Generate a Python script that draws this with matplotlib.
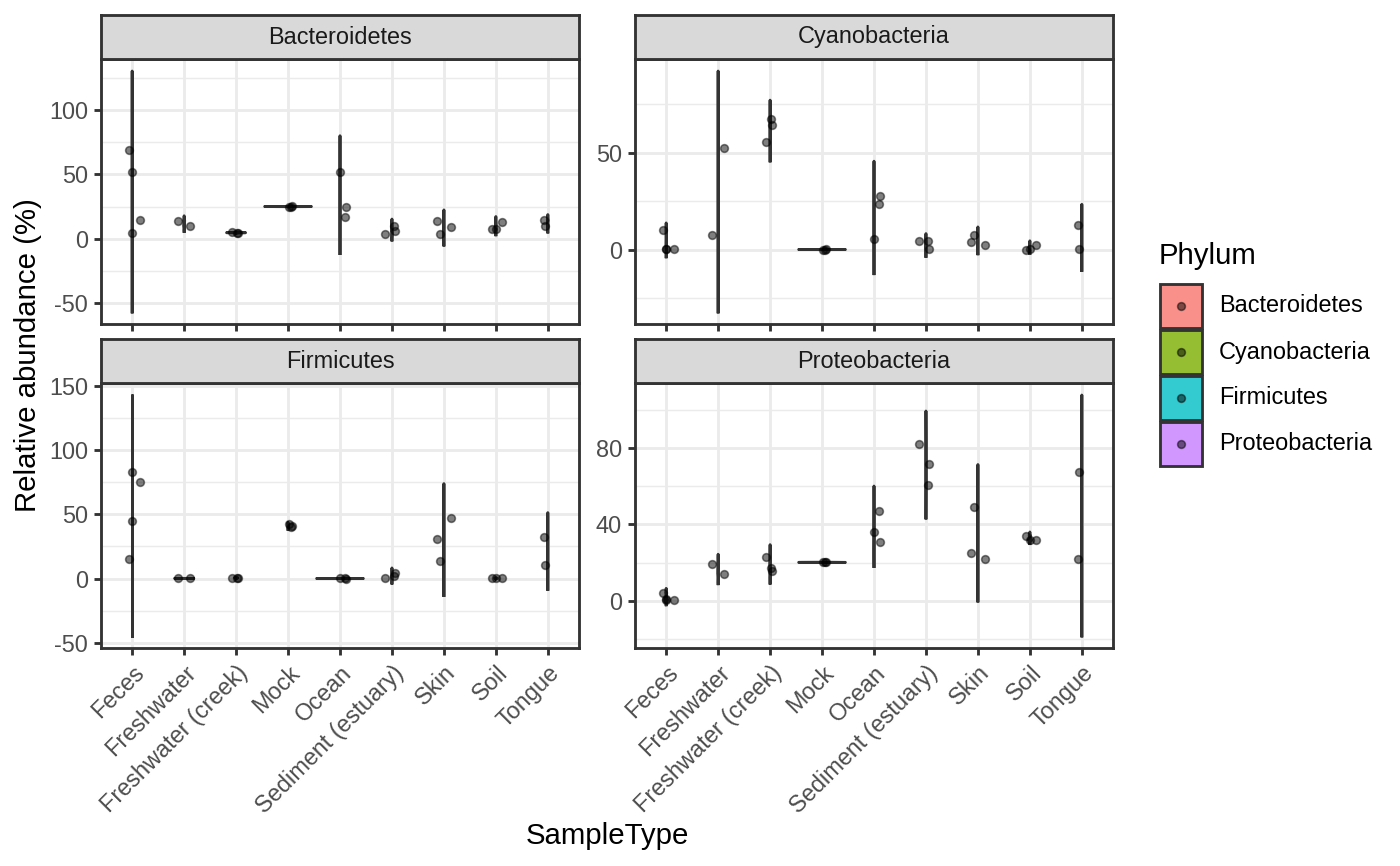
import numpy as np
import matplotlib
matplotlib.use("Agg")
import matplotlib.pyplot as plt
from matplotlib.patches import Rectangle

plt.rcParams['font.family'] = ['Liberation Sans', 'DejaVu Sans']
plt.rcParams['axes.unicode_minus'] = False

# data: relative abundance (%) per sample, per phylum and sample type

sample_types = ["Feces", "Freshwater", "Freshwater (creek)", "Mock", "Ocean",
                "Sediment (estuary)", "Skin", "Soil", "Tongue"]
phyla = ["Bacteroidetes", "Cyanobacteria", "Firmicutes", "Proteobacteria"]
colors = ["#F8766D", "#7CAE00", "#00BFC4", "#C77CFF"]

# horizontal jitter of each sample (same sample order as the values below)
jitter = {
    "Feces": [-0.065, 0.0, 0.145, -0.01],
    "Freshwater": [-0.115, 0.12],
    "Freshwater (creek)": [-0.075, 0.01, 0.03],
    "Mock": [0.01, 0.05, 0.07],
    "Ocean": [0.0, 0.1, 0.125],
    "Sediment (estuary)": [-0.13, 0.035, 0.05],
    "Skin": [-0.135, -0.075, 0.145],
    "Soil": [-0.08, 0.0, 0.11],
    "Tongue": [-0.075, -0.045],
}

bacteroidetes = {
    "Feces": [68.5, 51.7, 14.7, 4.9],
    "Freshwater": [14.0, 9.6],
    "Freshwater (creek)": [5.0, 4.8, 4.7],
    "Mock": [25.0, 25.05, 25.1],
    "Ocean": [51.7, 16.8, 24.6],
    "Sediment (estuary)": [4.1, 10.3, 5.7],
    "Skin": [14.0, 3.6, 8.8],
    "Soil": [7.5, 7.8, 12.9],
    "Tongue": [14.5, 9.6],
}
cyanobacteria = {
    "Feces": [9.9, 0.1, 0.2, 0.3],
    "Freshwater": [7.4, 52.6],
    "Freshwater (creek)": [55.5, 67.5, 64.6],
    "Mock": [0.0, 0.02, 0.03],
    "Ocean": [5.5, 23.7, 27.7],
    "Sediment (estuary)": [4.6, 4.4, 0.1],
    "Skin": [4.1, 7.4, 2.1],
    "Soil": [0.02, 0.1, 2.5],
    "Tongue": [12.5, 0.1],
}
firmicutes = {
    "Feces": [15.5, 45.2, 75.4, 82.7],
    "Freshwater": [0.05, 0.1],
    "Freshwater (creek)": [0.3, 0.6, 0.7],
    "Mock": [42.1, 40.0, 41.3],
    "Ocean": [0.02, 0.03, 0.01],
    "Sediment (estuary)": [0.1, 2.1, 4.6],
    "Skin": [30.5, 13.7, 47.0],
    "Soil": [0.5, 0.3, 0.1],
    "Tongue": [32.3, 10.6],
}
proteobacteria = {
    "Feces": [4.3, 1.0, 0.4, 0.2],
    "Freshwater": [19.5, 13.9],
    "Freshwater (creek)": [23.2, 17.3, 15.5],
    "Mock": [20.1, 20.15, 20.2],
    "Ocean": [36.2, 47.1, 31.0],
    "Sediment (estuary)": [82.1, 60.7, 71.5],
    "Skin": [25.1, 49.3, 22.0],
    "Soil": [34.2, 32.1, 31.9],
    "Tongue": [21.8, 67.6],
}
abundance = [bacteroidetes, cyanobacteria, firmicutes, proteobacteria]
yticks = [[-50, 0, 50, 100], [0, 50], [-50, 0, 50, 100, 150], [0, 40, 80]]


def bw_nrd0(x):
    x = np.asarray(x, float)
    hi = np.std(x, ddof=1)
    q75, q25 = np.percentile(x, [75, 25])
    lo = min(hi, (q75 - q25) / 1.34)
    if lo == 0:
        lo = hi or abs(x[0]) or 1
    return 0.9 * lo * len(x) ** -0.2


def violin(x):
    x = np.asarray(x, float)
    bw = bw_nrd0(x)
    grid = np.linspace(x.min() - 3 * bw, x.max() + 3 * bw, 512)
    z = (grid[:, None] - x[None, :]) / bw
    dens = np.exp(-0.5 * z ** 2).mean(axis=1) / (bw * np.sqrt(2 * np.pi))
    return grid, dens


fig = plt.figure(figsize=(1400 / 192, 866 / 192), dpi=192)

# panel boxes in figure fractions
panel_pos = [
    [101 / 1400, 1 - 324 / 866, 478 / 1400, 265 / 866],
    [635 / 1400, 1 - 324 / 866, 478 / 1400, 265 / 866],
    [101 / 1400, 1 - 648 / 866, 478 / 1400, 265 / 866],
    [635 / 1400, 1 - 648 / 866, 478 / 1400, 265 / 866],
]
strip_h = 44 / 866
dark = "#333333"
pt_size = 2.9

for i, ph in enumerate(phyla):
    ax = fig.add_axes(panel_pos[i])
    data = abundance[i]
    curves = [violin(data[s]) for s in sample_types]
    dmax = max(d.max() for g, d in curves)
    lo = min(g.min() for g, d in curves)
    hi = max(g.max() for g, d in curves)
    pad = (hi - lo) * 0.05

    # gridlines
    for t in yticks[i]:
        ax.axhline(t, color="#EBEBEB", lw=1.07, zorder=0)
    step = yticks[i][1] - yticks[i][0]
    for t in np.arange(yticks[i][0] - step / 2, hi + pad, step):
        if lo - pad < t < hi + pad:
            ax.axhline(t, color="#EBEBEB", lw=0.53, zorder=0)
    for k in range(len(sample_types)):
        ax.axvline(k + 1, color="#EBEBEB", lw=1.07, zorder=0)

    for k, s in enumerate(sample_types):
        g, d = curves[k]
        w = d / dmax * 0.45
        xs = np.concatenate([k + 1 - w, (k + 1 + w)[::-1]])
        ys = np.concatenate([g, g[::-1]])
        ax.fill(xs, ys, facecolor=colors[i], alpha=0.8, zorder=2)
        ax.plot(xs, ys, color=dark, lw=1.07, zorder=3, solid_joinstyle="round")
        xj = [k + 1 + j for j in jitter[s]]
        ax.plot(xj, data[s], "o", ms=pt_size, mfc=(0, 0, 0, 0.5),
                mec=(0, 0, 0, 0.5), mew=0.6, zorder=4, linestyle="none")

    ax.set_xlim(0.4, 9.6)
    ax.set_ylim(lo - pad, hi + pad)
    ax.set_yticks(yticks[i])
    ax.set_xticks(range(1, 10))
    if i >= 2:
        ax.set_xticklabels(sample_types, rotation=45, ha="right",
                           rotation_mode="anchor")
    else:
        ax.set_xticklabels([])
    ax.tick_params(length=2.75, width=1.07, color=dark, labelsize=8.8,
                   labelcolor="#4D4D4D", pad=2.2)
    for sp in ax.spines.values():
        sp.set_color(dark)
        sp.set_linewidth(1.07)
    ax.set_facecolor("white")

    # strip on top of the panel
    x0, y0, w0, h0 = panel_pos[i]
    sax = fig.add_axes([x0, y0 + h0, w0, strip_h])
    sax.set_facecolor("#D9D9D9")
    sax.set_xticks([])
    sax.set_yticks([])
    for sp in sax.spines.values():
        sp.set_color(dark)
        sp.set_linewidth(1.07)
    sax.text(0.5, 0.5, ph, ha="center", va="center", fontsize=8.8,
             color="#1A1A1A", transform=sax.transAxes)

fig.text(607 / 1400, 1 - 836 / 866, "SampleType", ha="center", va="center",
         fontsize=11)
fig.text(28 / 1400, 1 - 355 / 866, "Relative abundance (%)", ha="center",
         va="center", rotation=90, fontsize=11)

# legend, drawn in pixel coordinates
lax = fig.add_axes([0, 0, 1, 1], facecolor="none")
lax.set_xlim(0, 1400)
lax.set_ylim(866, 0)
lax.axis("off")
lax.text(1159, 256, "Phylum", ha="left", va="center", fontsize=11)
for k, ph in enumerate(phyla):
    top = 284 + k * 46
    lax.add_patch(Rectangle((1160, top), 42, 44, facecolor=colors[k], alpha=0.8,
                            edgecolor="none"))
    lax.add_patch(Rectangle((1160, top), 42, 44, facecolor="none",
                            edgecolor=dark, lw=1.07))
    lax.plot(1181, top + 22, "o", ms=pt_size, mfc=(0, 0, 0, 0.5),
             mec=(0, 0, 0, 0.5), mew=0.6)
    lax.text(1219, top + 22, ph, ha="left", va="center", fontsize=8.8)

fig.savefig("out.png", dpi=192)
